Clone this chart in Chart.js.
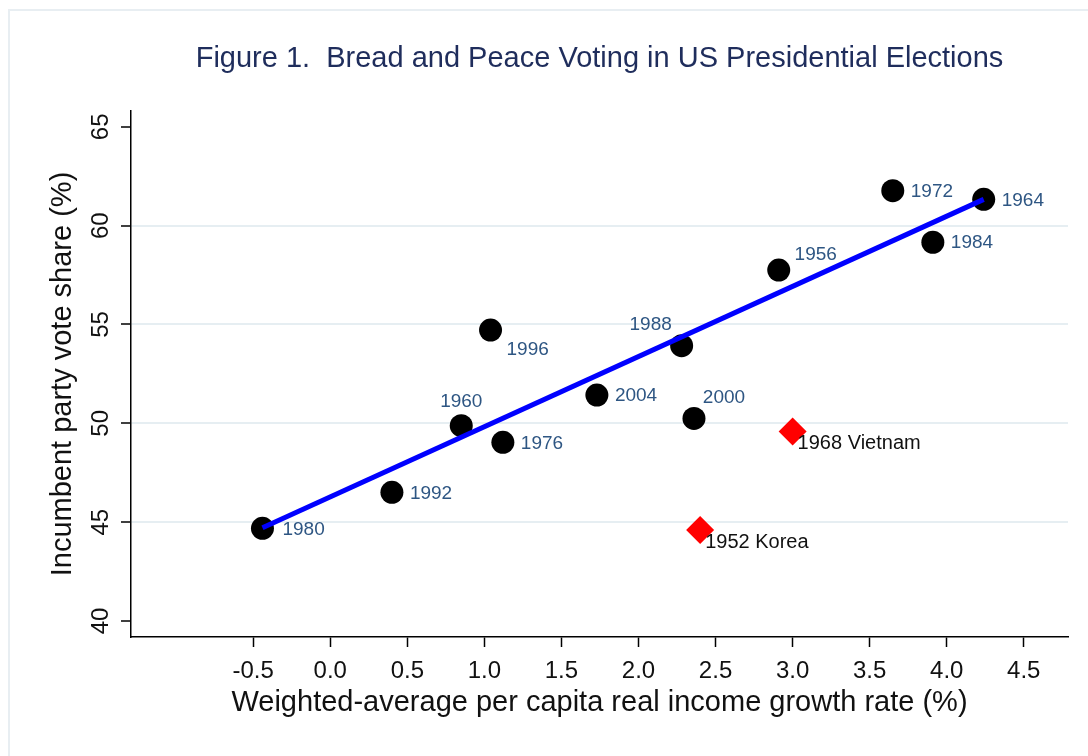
<!DOCTYPE html>
<html lang="en">
<head>
<meta charset="UTF-8">
<title>Bread and Peace Voting in US Presidential Elections</title>
<style>
    body { margin: 0; background: #fff; }
    #wrap { position: relative; width: 1088px; height: 756px; overflow: hidden; }
    #frame { position: absolute; left: 8px; top: 9px; width: 1200px; height: 900px; border: 2px solid #e8eef2; pointer-events: none; }
    canvas { position: absolute; left: 0; top: 0; }
</style>
<script src="https://cdn.jsdelivr.net/npm/chart.js"></script>
</head>
<body>
<div id="wrap">
    <canvas id="chart" width="1088" height="756"></canvas>
    <div id="frame"></div>
</div>
<script>
    // election years (non-war)
    const years  = ['1956', '1960', '1964', '1972', '1976', '1980', '1984', '1988', '1992', '1996', '2000', '2004'];
    const growth = [2.91, 0.85, 4.24, 3.65, 1.12, -0.44, 3.91, 2.28, 0.40, 1.04, 2.36, 1.73];
    const vote   = [57.75, 49.88, 61.33, 61.77, 49.04, 44.69, 59.16, 53.93, 46.51, 54.72, 50.25, 51.43];

    // war years
    const warLabels = ['1952 Korea', '1968 Vietnam'];
    const warGrowth = [2.40, 3.00];
    const warVote   = [44.60, 49.58];

    // fitted line end points
    const fitGrowth = [-0.44, 4.24];
    const fitVote   = [44.72, 61.33];

    const xTicks = [-0.5, 0, 0.5, 1, 1.5, 2, 2.5, 3, 3.5, 4, 4.5];
    const yTicks = [40, 45, 50, 55, 60, 65];

    // where each marker label sits relative to its marker: [dx, dy, align]
    const labelPlace = {
        '1956': [37, -15, 'center'],
        '1960': [0, -24, 'center'],
        '1988': [-31, -21, 'center'],
        '2000': [30, -21, 'center'],
        '1996': [16, 20, 'left'],
        '1980': [20, 1, 'left']
    };
    const FONT = '"Liberation Sans", Arial, sans-serif';

    const markerLabels = {
        id: 'markerLabels',
        afterDatasetsDraw(chart) {
            const ctx = chart.ctx;
            ctx.save();
            ctx.textBaseline = 'middle';
            chart.data.datasets.forEach((ds, i) => {
                if (!ds.labels) return;
                const meta = chart.getDatasetMeta(i);
                ctx.font = ds.labelFont;
                ctx.fillStyle = ds.labelColor;
                meta.data.forEach((el, j) => {
                    const lab = ds.labels[j];
                    const p = labelPlace[lab] || ds.labelDefault;
                    ctx.textAlign = p[2];
                    ctx.fillText(lab, el.x + p[0], el.y + p[1]);
                });
            });
            ctx.restore();
        }
    };

    const ctx = document.getElementById('chart').getContext('2d');
    const chart = new Chart(ctx, {
        type: 'scatter',
        data: {
            datasets: [{
                type: 'line',
                data: fitGrowth.map((x, i) => ({ x: x, y: fitVote[i] })),
                borderColor: '#0000ff',
                borderWidth: 5,
                pointRadius: 0,
                fill: false
            }, {
                data: growth.map((x, i) => ({ x: x, y: vote[i] })),
                labels: years,
                labelFont: '19px ' + FONT,
                labelColor: '#2e5683',
                labelDefault: [18, 1, 'left'],
                pointStyle: 'circle',
                pointRadius: 11.5,
                backgroundColor: '#000',
                borderWidth: 0
            }, {
                data: warGrowth.map((x, i) => ({ x: x, y: warVote[i] })),
                labels: warLabels,
                labelFont: '20px ' + FONT,
                labelColor: '#111',
                labelDefault: [5, 12, 'left'],
                pointStyle: 'rectRot',
                pointRadius: 14,
                backgroundColor: '#ff0000',
                borderWidth: 0
            }]
        },
        options: {
            responsive: false,
            animation: false,
            clip: false,
            layout: { padding: { left: 0, right: 20, top: 0, bottom: 0 } },
            plugins: {
                legend: { display: false },
                tooltip: { enabled: false },
                title: {
                    display: true,
                    fullSize: false,
                    text: 'Figure 1.  Bread and Peace Voting in US Presidential Elections',
                    color: '#1f2d5c',
                    font: { family: FONT, size: 29, weight: 'normal', lineHeight: 1.2 },
                    padding: { top: 41.6, bottom: 34.6 }
                }
            },
            scales: {
                x: {
                    type: 'linear',
                    min: -1.293,
                    max: 4.787,
                    afterBuildTicks: s => { s.ticks = xTicks.map(v => ({ value: v })); },
                    afterFit: s => { s.height = 119; },
                    border: { color: '#000', width: 1.5 },
                    grid: { drawOnChartArea: false, tickColor: '#000', tickWidth: 1.5, tickLength: 10 },
                    ticks: {
                        autoSkip: false,
                        maxRotation: 0,
                        padding: 10,
                        color: '#111',
                        font: { family: FONT, size: 24 },
                        callback: v => Number(v).toFixed(1)
                    },
                    title: {
                        display: true,
                        text: 'Weighted-average per capita real income growth rate (%)',
                        color: '#111',
                        font: { family: FONT, size: 29, lineHeight: 1.2 },
                        padding: { top: 0, bottom: 35.5 }
                    }
                },
                y: {
                    type: 'linear',
                    min: 39.19,
                    max: 65.80,
                    afterBuildTicks: s => { s.ticks = yTicks.map(v => ({ value: v })); },
                    afterFit: s => { s.width = 131; },
                    border: { color: '#000', width: 1.5 },
                    grid: {
                        color: c => (c.tick && (c.tick.value === 40 || c.tick.value === 65)) ? 'rgba(0,0,0,0)' : '#e6eef2',
                        lineWidth: 2,
                        tickColor: '#000',
                        tickWidth: 1.5,
                        tickLength: 10
                    },
                    ticks: {
                        autoSkip: false,
                        minRotation: 90,
                        maxRotation: 90,
                        crossAlign: 'center',
                        padding: 6,
                        color: '#111',
                        font: { family: FONT, size: 24 }
                    },
                    title: {
                        display: true,
                        text: 'Incumbent party vote share (%)',
                        color: '#111',
                        font: { family: FONT, size: 29, lineHeight: 1.2 },
                        padding: { top: 45.6, bottom: 0 }
                    }
                }
            }
        },
        plugins: [markerLabels]
    });
</script>
</body>
</html>
